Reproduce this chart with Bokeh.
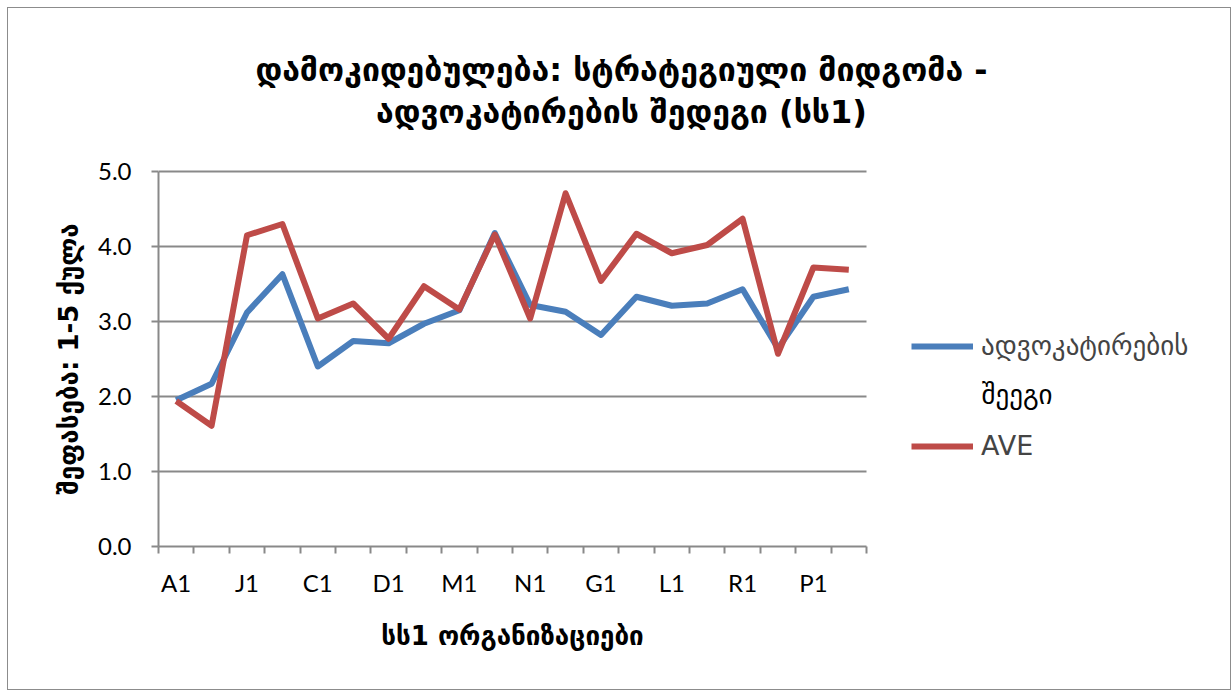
from bokeh.plotting import figure
from bokeh.models import (Range1d, FixedTicker, Legend, LegendItem, Label,
                          NumeralTickFormatter, LinearAxis)
from bokeh.embed import file_html
from bokeh.resources import INLINE

# ---- data ----
tick_labels = ["A1", "J1", "C1", "D1", "M1", "N1", "G1", "L1", "R1", "P1"]
n_categories = 20
advocacy = [1.95, 2.17, 3.12, 3.63, 2.40, 2.74, 2.71, 2.97, 3.15, 4.18,
            3.22, 3.13, 2.82, 3.33, 3.21, 3.24, 3.43, 2.64, 3.33, 3.43]
ave = [1.94, 1.61, 4.15, 4.30, 3.04, 3.24, 2.77, 3.47, 3.16, 4.16,
       3.04, 4.71, 3.54, 4.17, 3.91, 4.02, 4.37, 2.57, 3.72, 3.69]
y_ticks = [0, 1, 2, 3, 4, 5]
series_names = ["ადვოკატირების", "შეეგი", "AVE"]
title_lines = ["დამოკიდებულება: სტრატეგიული მიდგომა -",
               "ადვოკატირების შედეგი (სს1)"]
x_title = "სს1 ორგანიზაციები"
y_title = "შეფასება: 1-5 ქულა"

BLUE = "#4A7EBB"
RED = "#BE4B48"
GRID = "#898989"
GEO_FONT = "DejaVu Sans"
NUM_FONT = "Lato"

xs = [i + 0.5 for i in range(n_categories)]

# layout (page px): plot area x 157..865, y 170..545; canvas starts at 7,7
W, H = 1224, 683
LEFT, BOTTOM = 150, 145
px_per_x = (865 - 157) / n_categories
px_per_y = (545 - 170) / (y_ticks[-1] - y_ticks[0])
x_end = n_categories + (1231 - 865) / px_per_x
y_end = y_ticks[-1] + (170 - 7) / px_per_y

p = figure(width=W, height=H, output_backend="svg", toolbar_location=None,
           x_range=Range1d(0, x_end), y_range=Range1d(0, y_end),
           min_border_left=LEFT, min_border_right=0,
           min_border_top=0, min_border_bottom=BOTTOM)
p.outline_line_color = None
p.background_fill_color = "white"
p.border_fill_color = "white"
p.styles = {"border": "1.5px solid #8c8c8c", "margin-left": "7px", "margin-top": "7px"}
p.xgrid.visible = False
p.ygrid.visible = False

# gridlines limited to the plot area
p.segment(x0=0, x1=n_categories, y0=y_ticks[1:], y1=y_ticks[1:],
          line_color=GRID, line_width=2)

# x axis
label_pos = [xs[2 * i] for i in range(len(tick_labels))]
p.xaxis.bounds = (0, n_categories)
p.xaxis.ticker = FixedTicker(ticks=label_pos,
                             minor_ticks=list(range(n_categories + 1)))
p.xaxis.major_label_overrides = {pos: lab for pos, lab in zip(label_pos, tick_labels)}
p.xaxis.major_tick_out = 0
p.xaxis.major_tick_in = 0
p.xaxis.minor_tick_out = 7
p.xaxis.minor_tick_in = 0
p.xaxis.minor_tick_line_color = GRID
p.xaxis.minor_tick_line_width = 2
p.xaxis.axis_line_color = GRID
p.xaxis.axis_line_width = 2
p.xaxis.major_label_text_font = NUM_FONT
p.xaxis.major_label_text_font_size = "24px"
p.xaxis.major_label_text_color = "black"
p.xaxis.major_label_standoff = 14

# x axis title, centred under the plot area
x_mid = n_categories / 2
xt = LinearAxis(ticker=FixedTicker(ticks=[x_mid]),
                major_label_overrides={x_mid: x_title},
                axis_line_color=None, major_tick_line_color=None,
                minor_tick_line_color=None, major_label_standoff=15,
                major_label_text_font=GEO_FONT, major_label_text_font_size="26px",
                major_label_text_font_style="bold", major_label_text_color="black")
p.add_layout(xt, "below")

# y axis
p.yaxis.bounds = (y_ticks[0], y_ticks[-1])
p.yaxis.ticker = FixedTicker(ticks=y_ticks)
p.yaxis.formatter = NumeralTickFormatter(format="0.0")
p.yaxis.major_tick_out = 7
p.yaxis.major_tick_in = 0
p.yaxis.minor_tick_line_color = None
p.yaxis.major_tick_line_color = GRID
p.yaxis.major_tick_line_width = 2
p.yaxis.axis_line_color = GRID
p.yaxis.axis_line_width = 2
p.yaxis.major_label_text_font = NUM_FONT
p.yaxis.major_label_text_font_size = "24px"
p.yaxis.major_label_text_color = "black"
p.yaxis.major_label_standoff = 20

# y axis title, centred beside the plot area
y_mid = (y_ticks[0] + y_ticks[-1]) / 2
yt = LinearAxis(ticker=FixedTicker(ticks=[y_mid]),
                major_label_overrides={y_mid: y_title},
                major_label_orientation="vertical",
                axis_line_color=None, major_tick_line_color=None,
                minor_tick_line_color=None, major_label_standoff=5,
                major_label_text_font=GEO_FONT, major_label_text_font_size="26px",
                major_label_text_font_style="bold", major_label_text_color="black")
p.add_layout(yt, "left")

r1 = p.line(xs, advocacy, line_color=BLUE, line_width=6, line_join="round")
r2 = p.line(xs, ave, line_color=RED, line_width=6, line_join="round")

legend = Legend(items=[LegendItem(label=series_names[0], renderers=[r1]),
                       LegendItem(label=series_names[2], renderers=[r2])],
                location=(753, 85), orientation="vertical",
                glyph_width=62, glyph_height=30, label_standoff=8,
                label_text_font=GEO_FONT, label_text_font_size="27px",
                spacing=69, padding=0, margin=0,
                border_line_color=None, background_fill_alpha=0)
p.add_layout(legend, "center")
p.add_layout(Label(x=980 - 157, y=545 - 393, x_units="screen", y_units="screen",
                   text=series_names[1], text_baseline="middle",
                   text_font=GEO_FONT, text_font_size="27px", text_color="black"))

# title (two centred lines)
for i, line in enumerate(title_lines):
    p.add_layout(Label(x=620 - 157, y=545 - 68 - 42 * i,
                       x_units="screen", y_units="screen",
                       text=line, text_align="center", text_baseline="middle",
                       text_font=GEO_FONT, text_font_size="32px",
                       text_font_style="bold", text_color="black"))

open("out.html", "w").write(file_html(p, INLINE))
